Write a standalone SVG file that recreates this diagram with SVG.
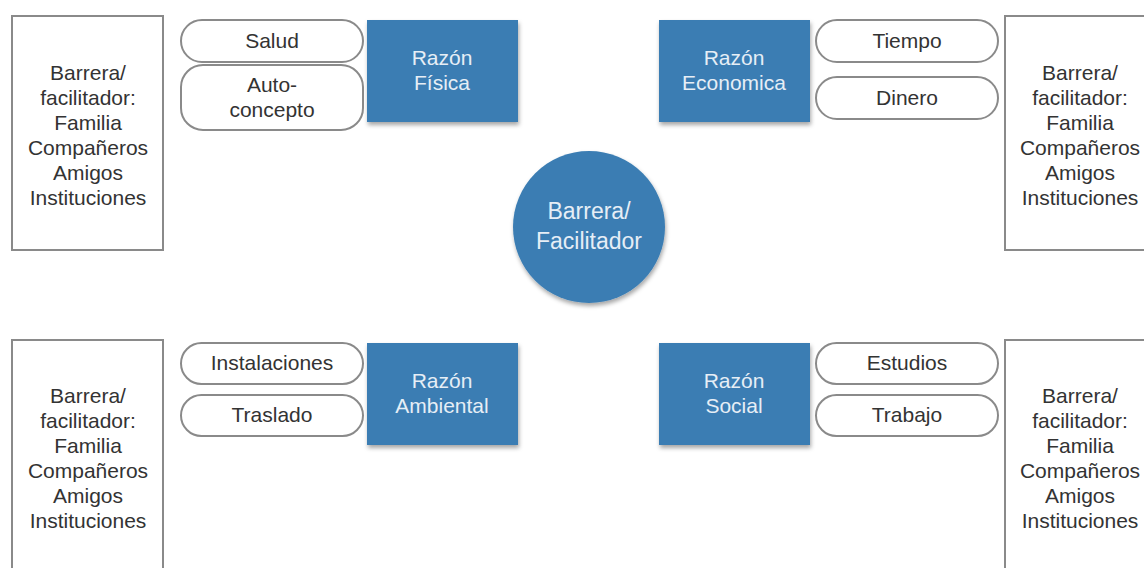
<svg xmlns="http://www.w3.org/2000/svg" width="1144" height="568" viewBox="0 0 1144 568">
<defs>
<filter id="sh" x="-10%" y="-10%" width="125%" height="130%">
<feDropShadow dx="1" dy="3" stdDeviation="2" flood-color="#000" flood-opacity="0.35"/>
</filter>
<style>
.frame{fill:#fff;stroke:#8a8a8a;stroke-width:2}
.pill{fill:#fff;stroke:#8a8a8a;stroke-width:2}
.blue{fill:#3b7db3;filter:url(#sh)}
.t{font-family:"Liberation Sans",Arial,sans-serif;font-size:21px;fill:#333;text-anchor:middle}
.w{font-family:"Liberation Sans",Arial,sans-serif;font-size:21px;fill:#e6eef6;text-anchor:middle}
.c{font-family:"Liberation Sans",Arial,sans-serif;font-size:23px;fill:#e6eef6;text-anchor:middle}
</style>
</defs>
<rect width="1144" height="568" fill="#fff"/>
<g id="connectors"></g>

<g id="box-tl">
<rect class="frame" x="12" y="16" width="151" height="234"/>
<text class="t" x="88" y="80">Barrera/</text>
<text class="t" x="88" y="105">facilitador:</text>
<text class="t" x="88" y="130">Familia</text>
<text class="t" x="88" y="155">Compañeros</text>
<text class="t" x="88" y="180">Amigos</text>
<text class="t" x="88" y="205">Instituciones</text>
</g>
<g id="box-tr">
<rect class="frame" x="1005" y="16" width="150" height="234"/>
<text class="t" x="1080" y="80">Barrera/</text>
<text class="t" x="1080" y="105">facilitador:</text>
<text class="t" x="1080" y="130">Familia</text>
<text class="t" x="1080" y="155">Compañeros</text>
<text class="t" x="1080" y="180">Amigos</text>
<text class="t" x="1080" y="205">Instituciones</text>
</g>
<g id="box-bl">
<rect class="frame" x="12" y="340" width="151" height="240"/>
<text class="t" x="88" y="403">Barrera/</text>
<text class="t" x="88" y="428">facilitador:</text>
<text class="t" x="88" y="453">Familia</text>
<text class="t" x="88" y="478">Compañeros</text>
<text class="t" x="88" y="503">Amigos</text>
<text class="t" x="88" y="528">Instituciones</text>
</g>
<g id="box-br">
<rect class="frame" x="1005" y="340" width="150" height="240"/>
<text class="t" x="1080" y="403">Barrera/</text>
<text class="t" x="1080" y="428">facilitador:</text>
<text class="t" x="1080" y="453">Familia</text>
<text class="t" x="1080" y="478">Compañeros</text>
<text class="t" x="1080" y="503">Amigos</text>
<text class="t" x="1080" y="528">Instituciones</text>
</g>

<g id="pill-salud">
<rect class="pill" x="181" y="20" width="182" height="42" rx="21"/>
<text class="t" x="272" y="48">Salud</text>
</g>
<g id="pill-autoconcepto">
<rect class="pill" x="181" y="65" width="182" height="65" rx="22"/>
<text class="t" x="272" y="92">Auto-</text>
<text class="t" x="272" y="117">concepto</text>
</g>
<g id="razon-fisica">
<rect class="blue" x="367" y="20" width="151" height="102"/>
<text class="w" x="442" y="65">Razón</text>
<text class="w" x="442" y="90">Física</text>
</g>

<g id="razon-economica">
<rect class="blue" x="659" y="20" width="151" height="102"/>
<text class="w" x="734" y="65">Razón</text>
<text class="w" x="734" y="90">Economica</text>
</g>
<g id="pill-tiempo">
<rect class="pill" x="816" y="20" width="182" height="42" rx="21"/>
<text class="t" x="907" y="48">Tiempo</text>
</g>
<g id="pill-dinero">
<rect class="pill" x="816" y="77" width="182" height="42" rx="21"/>
<text class="t" x="907" y="105">Dinero</text>
</g>

<g id="center">
<circle cx="589" cy="227" r="76" fill="#3b7db3" filter="url(#sh)"/>
<text class="c" x="589" y="219">Barrera/</text>
<text class="c" x="589" y="249">Facilitador</text>
</g>

<g id="pill-instalaciones">
<rect class="pill" x="181" y="343" width="182" height="41" rx="20.5"/>
<text class="t" x="272" y="370">Instalaciones</text>
</g>
<g id="pill-traslado">
<rect class="pill" x="181" y="395" width="182" height="41" rx="20.5"/>
<text class="t" x="272" y="422">Traslado</text>
</g>
<g id="razon-ambiental">
<rect class="blue" x="367" y="343" width="151" height="102"/>
<text class="w" x="442" y="388">Razón</text>
<text class="w" x="442" y="413">Ambiental</text>
</g>

<g id="razon-social">
<rect class="blue" x="659" y="343" width="151" height="102"/>
<text class="w" x="734" y="388">Razón</text>
<text class="w" x="734" y="413">Social</text>
</g>
<g id="pill-estudios">
<rect class="pill" x="816" y="343" width="182" height="41" rx="20.5"/>
<text class="t" x="907" y="370">Estudios</text>
</g>
<g id="pill-trabajo">
<rect class="pill" x="816" y="395" width="182" height="41" rx="20.5"/>
<text class="t" x="907" y="422">Trabajo</text>
</g>
</svg>
